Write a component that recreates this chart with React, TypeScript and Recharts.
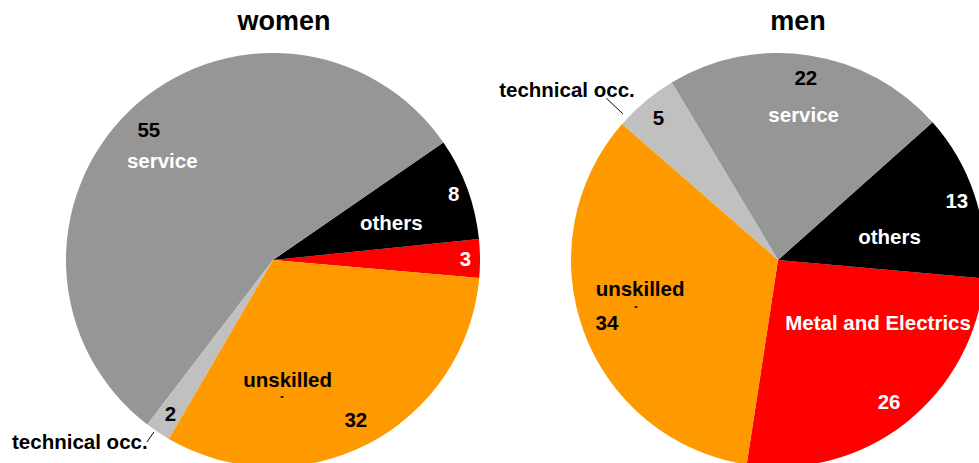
import React from 'react';
import { PieChart, Pie, Cell } from 'recharts';

// slice order is counter-clockwise, the same for both pies
const CATEGORIES = ['Metal and Electrics', 'others', 'service', 'technical occ.', 'unskilled'];
const WOMEN_VALUES = [3, 8, 55, 2, 32];
const MEN_VALUES = [26, 13, 22, 5, 34];
const TITLES = ['women', 'men'];

const COLORS = ['#ff0000', '#000000', '#969696', '#c0c0c0', '#ff9900'];
const VALUE_FILL = ['#ffffff', '#ffffff', '#000000', '#000000', '#000000'];
const NAME_FILL = ['#ffffff', '#ffffff', '#ffffff', '#000000', '#000000'];

const FONT = '"Liberation Sans", Arial, sans-serif';
const LABEL_SIZE = 20.5;
const RAD = Math.PI / 180;

type NamePos = { da: number; rf: number } | null;
type Leader = { idx: number; da: number; r0: number; r1: number };
type Layout = { valueRf: number[]; names: NamePos[]; leader: Leader; dash: { idx: number; da: number; rf: number } };

// label placement: radius fractions and angle offsets from the slice middle
const WOMEN_LAYOUT: Layout = {
  valueRf: [0.93, 0.93, 0.87, 0.89, 0.87],
  names: [null, { da: -2.4, rf: 0.6 }, { da: 4.4, rf: 0.72 }, { da: -13, rf: 1.28 }, { da: -20.4, rf: 0.58 }],
  leader: { idx: 3, da: -0.9, r0: 1.01, r1: 1.07 },
  dash: { idx: 4, da: -23.6, rf: 0.663 },
};
const MEN_LAYOUT: Layout = {
  valueRf: [0.87, 0.91, 0.89, 0.9, 0.88],
  names: [{ da: 19.9, rf: 0.57 }, { da: -6.6, rf: 0.55 }, { da: -1.3, rf: 0.715 }, { da: 11.2, rf: 1.31 }, { da: -8.6, rf: 0.68 }],
  leader: { idx: 3, da: 6.8, r0: 1.03, r1: 1.14 },
  dash: { idx: 4, da: -1.8, rf: 0.723 },
};

const polar = (cx: number, cy: number, r: number, a: number) => [cx + r * Math.cos(-a * RAD), cy + r * Math.sin(-a * RAD)];

const makeLabel = (lay: Layout) => (props: any) => {
  const { cx, cy, midAngle, outerRadius, index, value, name } = props;
  const [vx, vy] = polar(cx, cy, outerRadius * lay.valueRf[index], midAngle);
  const np = lay.names[index];
  let nameEl = null;
  if (np) {
    const [nx, ny] = polar(cx, cy, outerRadius * np.rf, midAngle + np.da);
    nameEl = (
      <text x={nx} y={ny} textAnchor="middle" dominantBaseline="central" fill={NAME_FILL[index]}
        fontFamily={FONT} fontWeight="bold" fontSize={LABEL_SIZE}>{name}</text>
    );
  }
  let line = null;
  if (lay.leader.idx === index) {
    const { da, r0, r1 } = lay.leader;
    const [x0, y0] = polar(cx, cy, outerRadius * r0, midAngle + da);
    const [x1, y1] = polar(cx, cy, outerRadius * r1, midAngle + da);
    line = <line x1={x0} y1={y0} x2={x1} y2={y1} stroke="#000" strokeWidth={1} />;
  }
  let dash = null;
  if (lay.dash.idx === index) {
    const [dx, dy] = polar(cx, cy, outerRadius * lay.dash.rf, midAngle + lay.dash.da);
    dash = <line x1={dx - 1.5} y1={dy} x2={dx + 1.5} y2={dy} stroke="#000" strokeWidth={1.5} />;
  }
  return (
    <g>
      {line}
      {dash}
      <text x={vx} y={vy} textAnchor="middle" dominantBaseline="central" fill={VALUE_FILL[index]}
        fontFamily={FONT} fontWeight="bold" fontSize={LABEL_SIZE}>{value}</text>
      {nameEl}
    </g>
  );
};

const womenData = CATEGORIES.map((c, i) => ({ name: c, value: WOMEN_VALUES[i] }));
const menData = CATEGORIES.map((c, i) => ({ name: c, value: MEN_VALUES[i] }));

const titleStyle: React.CSSProperties = {
  position: 'absolute', top: 6, width: 200, textAlign: 'center',
  fontFamily: FONT, fontWeight: 'bold', fontSize: 27,
};

export default function App() {
  return (
    <div style={{ position: 'absolute', left: 0, top: 0, width: 979, height: 463, background: '#fff', overflow: 'hidden' }}>
      <PieChart width={979} height={463} margin={{ top: 0, right: 0, bottom: 0, left: 0 }}>
        <Pie data={womenData} dataKey="value" nameKey="name" cx={273} cy={260} outerRadius={207}
          startAngle={-5} endAngle={355} stroke="none" labelLine={false}
          label={makeLabel(WOMEN_LAYOUT)} isAnimationActive={false}>
          {womenData.map((d, i) => <Cell key={d.name} fill={COLORS[i]} />)}
        </Pie>
        <Pie data={menData} dataKey="value" nameKey="name" cx={778} cy={260} outerRadius={207}
          startAngle={261.3} endAngle={621.3} stroke="none" labelLine={false}
          label={makeLabel(MEN_LAYOUT)} isAnimationActive={false}>
          {menData.map((d, i) => <Cell key={d.name} fill={COLORS[i]} />)}
        </Pie>
      </PieChart>
      <div style={{ ...titleStyle, left: 184 }}>{TITLES[0]}</div>
      <div style={{ ...titleStyle, left: 698 }}>{TITLES[1]}</div>
    </div>
  );
}
